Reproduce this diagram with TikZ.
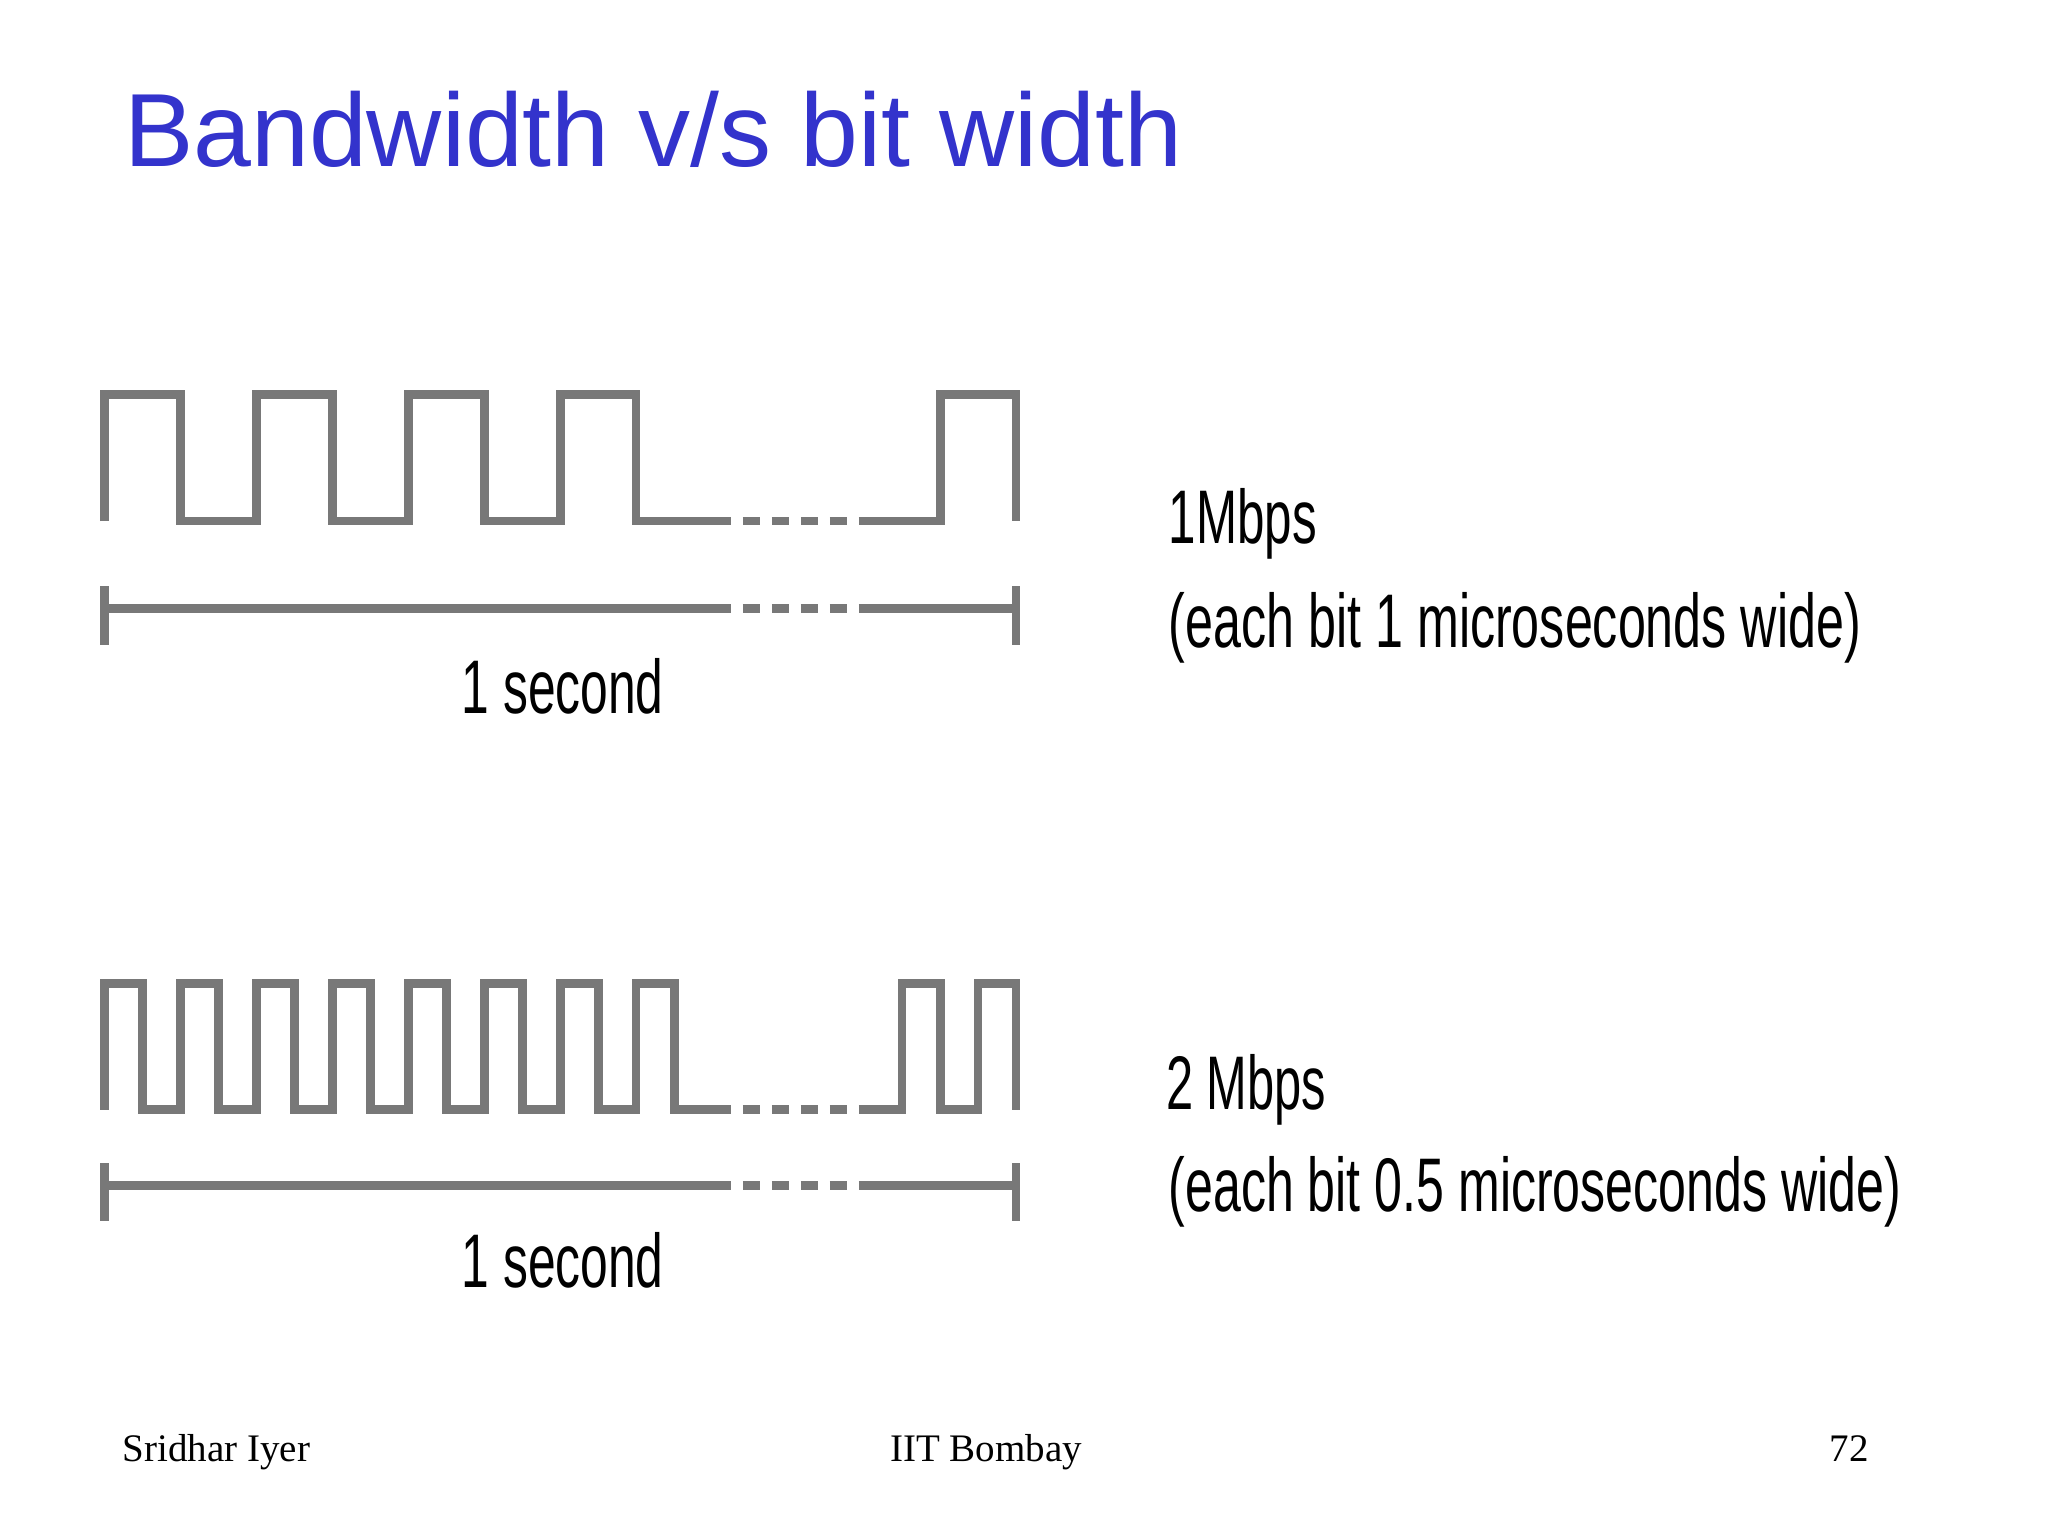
\documentclass[tikz,border=0pt]{standalone}
\usepackage{fontspec}
\setmainfont{Liberation Serif}
\newfontfamily\arialf{Liberation Sans}
\definecolor{titleblue}{RGB}{51,51,204}
\definecolor{wavegray}{RGB}{120,120,120}
\newcommand\nar[2]{\resizebox{#1}{\height}{\arialf\fontsize{38}{40}\selectfont #2}}
\begin{document}
\begin{tikzpicture}[x=0.6513pt,y=-0.6513pt,
  wave/.style={draw=wavegray,line width=4.4pt,line join=miter},
  dotted line/.style={draw=wavegray,line width=4.4pt,dash pattern=on 8.5pt off 6pt},
  lbl/.style={inner sep=0pt,anchor=base west}]
\useasboundingbox (0,0) rectangle (1572.2,1179.1);
\fill[white] (0,0) rectangle (1572.2,1179.1);
\node[lbl,text=titleblue,font=\arialf\fontsize{52}{56}\selectfont] (title) at (95,128) {Bandwidth v/s bit width};
% wave 1
\draw[wave] (80,400) -- (80,303) -- (138.3,303) -- (138.3,400) -- (196.7,400) -- (196.7,303) -- (255,303) -- (255,400) -- (313.3,400) -- (313.3,303) -- (371.7,303) -- (371.7,400) -- (430,400) -- (430,303) -- (488.3,303) -- (488.3,400) -- (548,400);
\draw[dotted line] (548,400) -- (665,400);
\draw[wave] (665,400) -- (721.7,400) -- (721.7,303) -- (780,303) -- (780,400);
\draw[wave] (80,467) -- (548,467);
\draw[dotted line] (548,467) -- (665,467);
\draw[wave] (665,467) -- (780,467);
\draw[wave] (80,450) -- (80,495);
\draw[wave] (780,450) -- (780,495);
\node[lbl,anchor=base] (sec1) at (432,548) {\nar{101pt}{1 second}};
\node[lbl] (r1) at (897,417) {\nar{74pt}{1Mbps}};
\node[lbl] (w1) at (897,497) {\nar{346pt}{(each bit 1 microseconds wide)}};
% wave 2
\draw[wave] (80,852) -- (80,755) -- (109.2,755) -- (109.2,852) -- (138.3,852) -- (138.3,755) -- (167.5,755) -- (167.5,852) -- (196.7,852) -- (196.7,755) -- (225.8,755) -- (225.8,852) -- (255,852) -- (255,755) -- (284.2,755) -- (284.2,852) -- (313.3,852) -- (313.3,755) -- (342.5,755) -- (342.5,852) -- (371.7,852) -- (371.7,755) -- (400.8,755) -- (400.8,852) -- (430,852) -- (430,755) -- (459.2,755) -- (459.2,852) -- (488.3,852) -- (488.3,755) -- (517.5,755) -- (517.5,852) -- (548,852);
\draw[dotted line] (548,852) -- (665,852);
\draw[wave] (665,852) -- (692.5,852) -- (692.5,755) -- (721.7,755) -- (721.7,852) -- (750.8,852) -- (750.8,755) -- (780,755) -- (780,852);
\draw[wave] (80,910) -- (548,910);
\draw[dotted line] (548,910) -- (665,910);
\draw[wave] (665,910) -- (780,910);
\draw[wave] (80,893) -- (80,937);
\draw[wave] (780,893) -- (780,937);
\node[lbl,anchor=base] (sec2) at (432,988) {\nar{101pt}{1 second}};
\node[lbl] (r2) at (895,852) {\nar{80pt}{2 Mbps}};
\node[lbl] (w2) at (897,930) {\nar{366pt}{(each bit 0.5 microseconds wide)}};
% footer
\node[lbl,font=\fontsize{19.5}{21}\selectfont] (f1) at (94,1122) {Sridhar Iyer};
\node[lbl,anchor=base,font=\fontsize{19.5}{21}\selectfont] (f2) at (757,1122) {IIT Bombay};
\node[lbl,anchor=base east,font=\fontsize{19.5}{21}\selectfont] (f3) at (1435,1122) {72};
\end{tikzpicture}
\end{document}
